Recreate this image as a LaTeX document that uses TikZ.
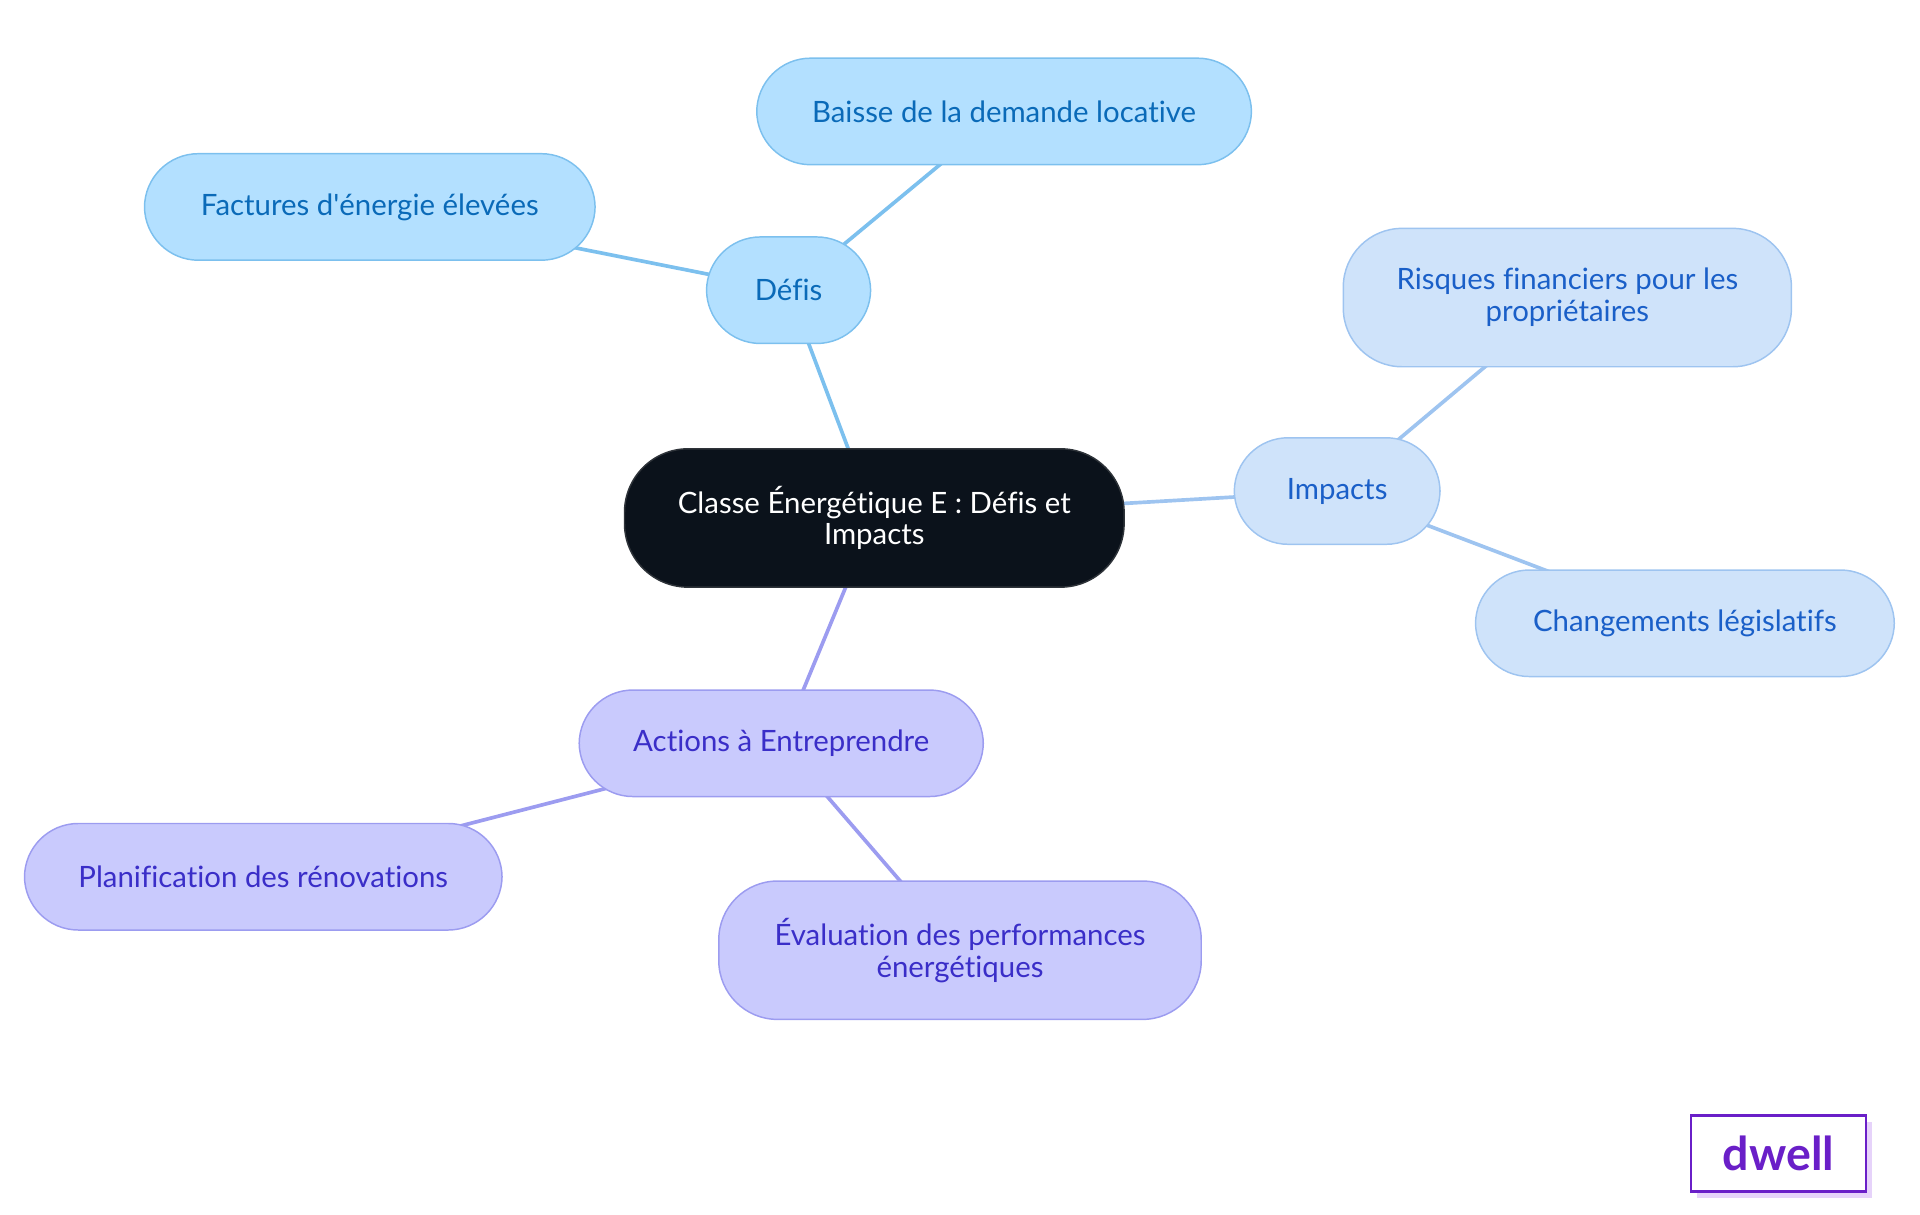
\documentclass[tikz,border=0pt]{standalone}
\usepackage{fontspec}
\setmainfont{Lato}[Ligatures={NoCommon}]
\usetikzlibrary{backgrounds}
\definecolor{cdark}{HTML}{0B121B}
\definecolor{bfill}{HTML}{B3E0FF}\definecolor{bline}{HTML}{7CC0EE}\definecolor{btext}{HTML}{0A6AB8}
\definecolor{ifill}{HTML}{CFE3FA}\definecolor{iline}{HTML}{9EC4F0}\definecolor{itext}{HTML}{1A5FC8}
\definecolor{afill}{HTML}{C9CAFD}\definecolor{aline}{HTML}{9C9CF0}\definecolor{atext}{HTML}{3A2EC8}
\definecolor{logo}{HTML}{6A1FC8}\definecolor{logosh}{HTML}{E6D3FA}
\begin{document}
\begin{tikzpicture}[x=0.5pt,y=-0.5pt,
 box/.style={rounded corners=22pt,align=center,font=\fontsize{12}{13}\selectfont,inner sep=0pt,line width=0.6pt},
 b/.style={box,fill=bfill,draw=bline,text=btext},
 i/.style={box,fill=ifill,draw=iline,text=itext},
 a/.style={box,fill=afill,draw=aline,text=atext},
 e/.style={line width=1.5pt}]
\useasboundingbox (0,0) rectangle (1568,992);
\node[box,fill=cdark,draw=cdark!70!gray,text=white,minimum width=204pt,minimum height=56.5pt,rounded corners=26pt] (c) at (714,423) {Classe Énergétique E : Défis et\\Impacts};
\node[b,minimum width=67pt,minimum height=43.5pt] (d) at (644,237) {Défis};
\node[b,minimum width=202pt,minimum height=43.5pt] (d1) at (820,91) {Baisse de la demande locative};
\node[b,minimum width=184pt,minimum height=43.5pt] (d2) at (302,169) {Factures d\textquotesingle énergie élevées};
\node[i,minimum width=84pt,minimum height=43.5pt] (im) at (1092,401) {Impacts};
\node[i,minimum width=183pt,minimum height=56.5pt,rounded corners=24pt] (i1) at (1280,243) {Risques financiers pour les\\propriétaires};
\node[i,minimum width=171pt,minimum height=43.5pt] (i2) at (1376,509) {Changements législatifs};
\node[a,minimum width=165pt,minimum height=43.5pt] (ac) at (638,607) {Actions à Entreprendre};
\node[a,minimum width=195pt,minimum height=43.5pt] (a1) at (215,716) {Planification des rénovations};
\node[a,minimum width=197pt,minimum height=56.5pt,rounded corners=24pt] (a2) at (784,776) {Évaluation des performances\\énergétiques};
\begin{scope}[on background layer]
\draw[e,bline] (c.center)--(d.center); \draw[e,bline] (d.center)--(d1.center); \draw[e,bline] (d.center)--(d2.center);
\draw[e,iline] (c.center)--(im.center); \draw[e,iline] (im.center)--(i1.center); \draw[e,iline] (im.center)--(i2.center);
\draw[e,aline] (c.center)--(ac.center); \draw[e,aline] (ac.center)--(a1.center); \draw[e,aline] (ac.center)--(a2.center);
\end{scope}
\fill[logosh] (1386,916) rectangle (1529,978);
\node[draw=logo,fill=white,line width=1pt,minimum width=71.5pt,minimum height=31pt,inner sep=0pt,text=logo,font=\fontsize{19}{20}\selectfont\bfseries] (logo) at (1452.5,942) {dwell};
\end{tikzpicture}
\end{document}
